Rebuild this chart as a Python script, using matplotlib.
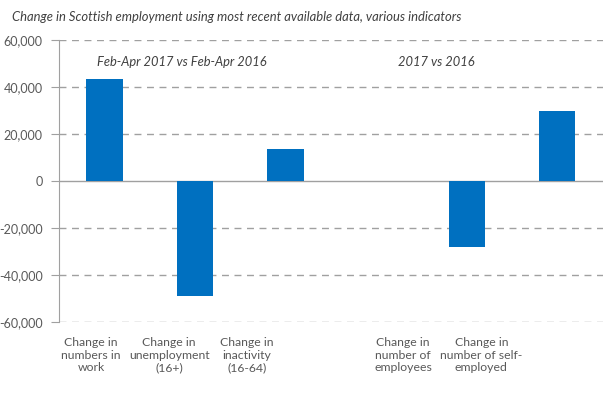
import matplotlib

matplotlib.use("Agg")
import matplotlib.pyplot as plt
import numpy as np

plt.rcParams["font.family"] = ["Lato", "DejaVu Sans"]

# data (one empty slot between the two groups)
categories = ["Change in\nnumbers in\nwork", "Change in\nunemployment\n(16+)",
              "Change in\ninactivity\n(16-64)", "", "Change in\nnumber of\nemployees",
              "Change in\nnumber of self-\nemployed"]
values = [43400, -49100, 13500, np.nan, -28100, 29700]
yticks = [-60000, -40000, -20000, 0, 20000, 40000, 60000]

BLUE = "#0070C0"
GRID = "#a0a0a0"
TXT = "#595959"

fig = plt.figure(figsize=(6.05, 3.97), dpi=100)
ax = fig.add_axes([0.0979, 0.189, 0.898, 0.710])

x = np.arange(len(categories))
ax.bar(x, values, width=0.4, color=BLUE, zorder=3)

ax.set_xlim(-0.5, len(categories) - 0.5)
ax.set_ylim(-60000, 60000)
ax.set_yticks(yticks)
ax.set_yticklabels([f"{v:,}" for v in yticks], color=TXT, fontsize=9)
for v in yticks:
    if v == 0:
        ax.axhline(v, color=GRID, lw=1.0, zorder=2)
    else:
        ax.axhline(v, color=GRID, lw=1.0, ls=(0, (5, 4)), zorder=1)

# category labels sit on a narrower spacing than the bars in the original
label_pos = -0.149 + 0.862 * x
ax.set_xticks(label_pos)
ax.set_xticklabels(categories, color=TXT, fontsize=8.8, linespacing=1.17)
ax.tick_params(axis="x", length=0, pad=11)
ax.tick_params(axis="y", length=6, color=GRID, pad=6)

for s in ["top", "right", "bottom"]:
    ax.spines[s].set_visible(False)
ax.spines["left"].set_color(GRID)

ax.text(-0.082, 50600, "Feb-Apr 2017 vs Feb-Apr 2016", style="italic",
        fontsize=9.3, color="#404040", va="center", ha="left")
ax.text(3.24, 50600, "2017 vs 2016", style="italic",
        fontsize=9.3, color="#404040", va="center", ha="left")

fig.text(12 / 605, 1 - 17 / 397,
         "Change in Scottish employment using most recent available data, various indicators",
         style="italic", fontsize=9.4, color="#404040", va="center", ha="left")

fig.savefig("out.png", dpi=100)
